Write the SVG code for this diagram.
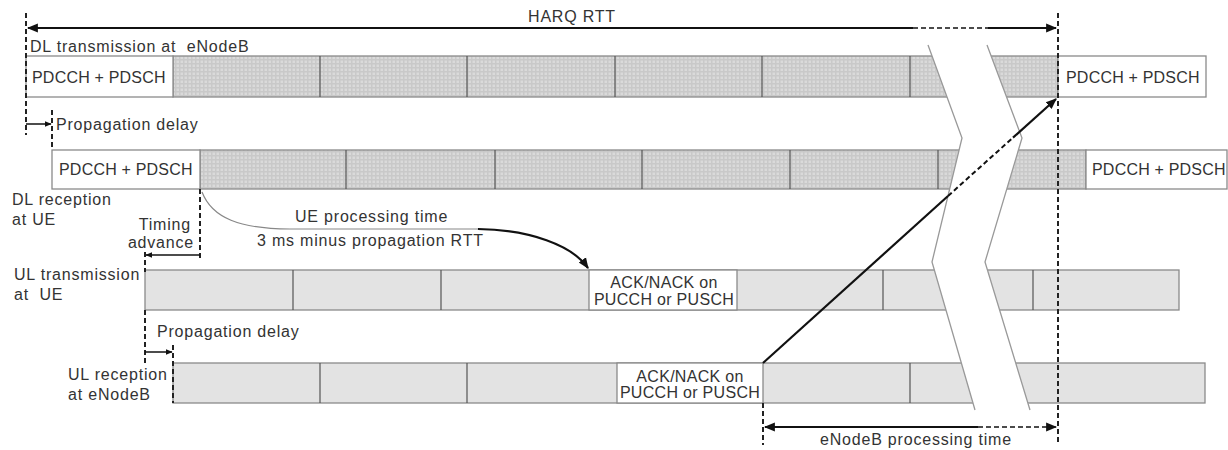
<svg xmlns="http://www.w3.org/2000/svg" width="1228" height="450" viewBox="0 0 1228 450">
<defs>
<pattern id="dots" x="0" y="0" width="4" height="4" patternUnits="userSpaceOnUse">
<rect width="4" height="4" fill="#c9c9c9"/>
<rect x="0.5" y="0.5" width="2.5" height="2.5" fill="#dadada"/>
</pattern>
<marker id="ah" viewBox="0 0 10 10" refX="9" refY="5" markerWidth="7" markerHeight="7" orient="auto-start-reverse" markerUnits="userSpaceOnUse">
<path d="M0,1 L10,5 L0,9 z" fill="#111"/>
</marker>
<marker id="ahs" viewBox="0 0 10 10" refX="9" refY="5" markerWidth="11" markerHeight="11" orient="auto-start-reverse" markerUnits="userSpaceOnUse">
<path d="M0,1 L10,5 L0,9 z" fill="#111"/>
</marker>
</defs>
<style>
text{font-family:"Liberation Sans",Arial,sans-serif;font-size:16px;fill:#333;letter-spacing:0.8px}
.cap{letter-spacing:0.2px}
.sm{letter-spacing:0.3px}
.bar{stroke:#8a8a8a;stroke-width:1.3}
.dl{fill:url(#dots)}
.ul{fill:#e3e3e3}
.wb{fill:#fff}
.div{stroke:#555;stroke-width:1.2}
.vd{stroke:#222;stroke-width:2;stroke-dasharray:5,3;fill:none}
.conn{stroke:#111;fill:none}
.brk{fill:#fff;stroke:none}
.brkl{fill:none;stroke:#999;stroke-width:1.3}
</style>
<rect width="1228" height="450" fill="#fff"/>

<g id="row-dl-enb">
<rect class="bar dl" x="173" y="56" width="885" height="41"/>
<rect class="bar wb" x="26" y="56" width="147" height="41"/>
<rect class="bar wb" x="1058" y="56" width="148" height="41"/>
<path class="div" d="M320,56V97M467,56V97M615,56V97M762,56V97M910,56V97"/>
<text x="30" y="52">DL transmission at&#160; eNodeB</text>
<text class="cap" x="32" y="83">PDCCH + PDSCH</text>
<text class="cap" x="1066" y="83">PDCCH + PDSCH</text>
</g>

<g id="row-dl-ue">
<rect class="bar dl" x="200" y="150" width="886" height="39"/>
<rect class="bar wb" x="52" y="150" width="148" height="39"/>
<rect class="bar wb" x="1086" y="150" width="141" height="39"/>
<path class="div" d="M346,150V189M495,150V189M642,150V189M790,150V189M938,150V189"/>
<text class="cap" x="59" y="175">PDCCH + PDSCH</text>
<text class="cap" x="1092" y="175">PDCCH + PDSCH</text>
<text x="12" y="205">DL reception</text>
<text x="12" y="225">at UE</text>
</g>

<g id="row-ul-ue">
<rect class="bar ul" x="145" y="270" width="1034" height="40"/>
<rect class="bar wb" x="589" y="270" width="148" height="40"/>
<path class="div" d="M293,270V310M441,270V310M883,270V310M1033,270V310"/>
<text class="sm" x="664" y="288" text-anchor="middle">ACK/NACK on</text>
<text class="sm" x="664" y="305" text-anchor="middle">PUCCH or PUSCH</text>
<text x="14" y="280">UL transmission</text>
<text x="14" y="300">at&#160; UE</text>
</g>

<g id="row-ul-enb">
<rect class="bar ul" x="173" y="363" width="1032" height="40"/>
<rect class="bar wb" x="617" y="363" width="146" height="40"/>
<path class="div" d="M320,363V403M467,363V403M910,363V403"/>
<text class="sm" x="690" y="382" text-anchor="middle">ACK/NACK on</text>
<text class="sm" x="690" y="398" text-anchor="middle">PUCCH or PUSCH</text>
<text x="68" y="380">UL reception</text>
<text x="68" y="400">at eNodeB</text>
</g>

<g id="break">
<path class="brk" d="M928,45 L962,138 L932,262 L975,410 L1030,410 L985,262 L1022,138 L987,45 Z"/>
<path class="brkl" d="M928,45 L962,138 L932,262 L975,410"/>
<path class="brkl" d="M987,45 L1022,138 L985,262 L1030,410"/>
</g>

<g id="labels">
<text x="572" y="22" text-anchor="middle">HARQ RTT</text>
<text x="56" y="130">Propagation delay</text>
<text x="191" y="230" text-anchor="end">Timing</text>
<text x="194" y="248" text-anchor="end">advance</text>
<text x="295" y="222">UE processing time</text>
<text x="257" y="246">3 ms minus propagation RTT</text>
<text x="157" y="337">Propagation delay</text>
<text x="820" y="445">eNodeB processing time</text>
</g>

<g id="connectors">
<path class="vd" d="M26,13V135"/>
<path class="vd" d="M52,110V150"/>
<path class="vd" d="M200,189V258"/>
<path class="vd" d="M145,252V272"/>
<path class="vd" d="M145,310V363"/>
<path class="vd" d="M173,345V403"/>
<path class="vd" d="M763,403V445"/>
<path class="vd" d="M1058,13V443"/>
<path class="conn" stroke-width="2.2" d="M913,28H28" marker-end="url(#ahs)"/>
<path class="conn" stroke-width="1.5" stroke-dasharray="5,3" d="M913,28H988"/>
<path class="conn" stroke-width="2.2" d="M988,28H1056" marker-end="url(#ahs)"/>
<path class="conn" stroke-width="1.5" d="M26,124H51" marker-end="url(#ah)"/>
<path class="conn" stroke-width="1.5" d="M200,255H146" marker-end="url(#ah)"/>
<path class="conn" stroke-width="1.5" d="M145,352H172" marker-end="url(#ah)"/>
<path class="conn" stroke-width="1.8" d="M978,427H765" marker-end="url(#ahs)"/>
<path class="conn" stroke-width="1.5" stroke-dasharray="5,3" d="M978,427H1045"/>
<path class="conn" stroke-width="1.5" d="M1045,427H1056" marker-end="url(#ahs)"/>
<path class="conn" stroke-width="2.2" d="M763,363L948,196"/>
<path class="conn" stroke-width="2" stroke-dasharray="5,3" d="M948,196L1013,137.6"/>
<path class="conn" stroke-width="2.2" d="M1013,137.6L1056,99" marker-end="url(#ahs)"/>
<path fill="none" stroke="#888" stroke-width="1.2" d="M202,192C212,218 240,229 290,229L478,229"/>
<path class="conn" stroke-width="2.2" d="M478,229C530,230 572,245 588,268" marker-end="url(#ahs)"/>
</g>
</svg>
